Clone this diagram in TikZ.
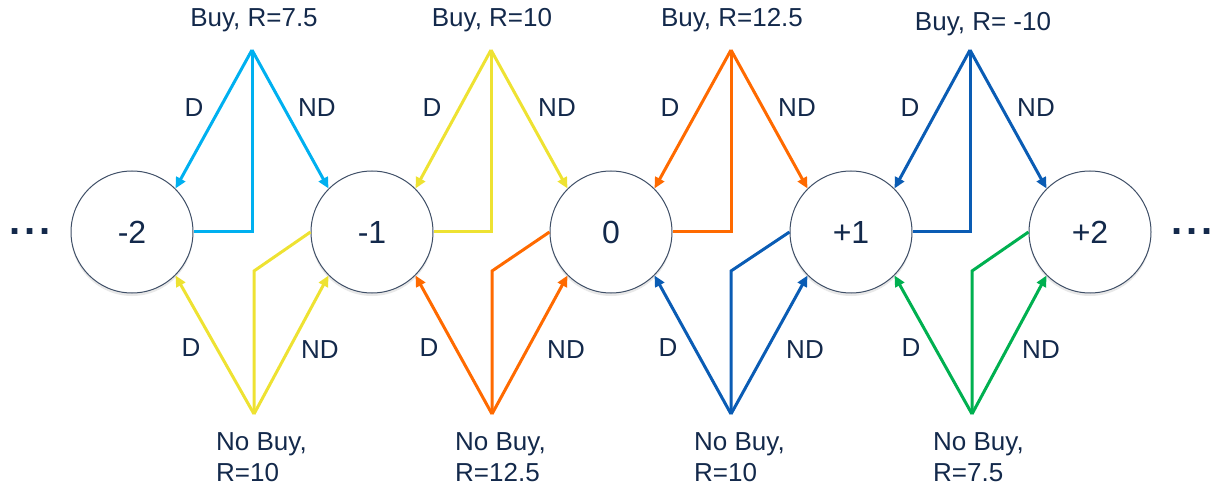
\documentclass[tikz,border=0pt]{standalone}
\usepackage{fontspec}
\setmainfont{Liberation Sans}
\usetikzlibrary{arrows.meta,shadows}
\definecolor{txt}{HTML}{13294B}
\definecolor{lblue}{HTML}{00B0F0}
\definecolor{yel}{HTML}{EEE232}
\definecolor{org}{HTML}{FF6A00}
\definecolor{dblue}{HTML}{0A5CB4}
\definecolor{grn}{HTML}{00B050}
\definecolor{ring}{HTML}{3E4E66}
\begin{document}
\begin{tikzpicture}[x=1pt,y=-1pt,
  state/.style={circle, draw=ring, line width=1pt, fill=white, minimum size=122pt, inner sep=0pt,
    font=\fontsize{32}{36}\selectfont, text=txt,
    drop shadow={shadow xshift=0pt,shadow yshift=-3pt,opacity=0.18}},
  lbl/.style={font=\fontsize{26}{30}\selectfont, text=txt},
  nblbl/.style={font=\fontsize{26}{31}\selectfont, text=txt, align=left, anchor=north west, inner sep=0pt},
  conn/.style={line width=3pt, -{Triangle[length=11pt,width=10pt]}},
  plain/.style={line width=3pt, line join=miter},
  dots/.style={font=\fontsize{40}{44}\selectfont\bfseries, text=txt, inner sep=0pt}]
\useasboundingbox (0,0) rectangle (1216,489);

% states
\node[state] (m2) at (132,232) {-2};
\node[state] (m1) at (372,232) {-1};
\node[state] (z)  at (611,232) {0};
\node[state] (p1) at (851,232) {+1};
\node[state] (p2) at (1090,232) {+2};

\node[dots] (dl) at (30,232) {.\hspace{4pt}.\hspace{4pt}.};
\node[dots] (dr) at (1192,232) {.\hspace{4pt}.\hspace{4pt}.};

% apex coordinates
\coordinate (ta1) at (252,50);
\coordinate (ta2) at (491,50);
\coordinate (ta3) at (731,50);
\coordinate (ta4) at (970,50);
\coordinate (ba1) at (254,414);
\coordinate (ba2) at (492,414);
\coordinate (ba3) at (731,414);
\coordinate (ba4) at (972,414);
\coordinate (bk1) at (254,271);
\coordinate (bk2) at (492,271);
\coordinate (bk3) at (731,271);
\coordinate (bk4) at (972,271);

% top (Buy) arrows
\draw[plain,lblue] (m2.east) -| (ta1);
\draw[conn,lblue] (ta1) -- (m2.45);
\draw[conn,lblue] (ta1) -- (m1.135);

\draw[plain,yel] (m1.east) -| (ta2);
\draw[conn,yel] (ta2) -- (m1.45);
\draw[conn,yel] (ta2) -- (z.135);

\draw[plain,org] (z.east) -| (ta3);
\draw[conn,org] (ta3) -- (z.45);
\draw[conn,org] (ta3) -- (p1.135);

\draw[plain,dblue] (p1.east) -| (ta4);
\draw[conn,dblue] (ta4) -- (p1.45);
\draw[conn,dblue] (ta4) -- (p2.135);

% bottom (No Buy) arrows
\draw[plain,yel] (m1.west) -- (bk1) -- (ba1);
\draw[conn,yel] (ba1) -- (m2.-45);
\draw[conn,yel] (ba1) -- (m1.-135);

\draw[plain,org] (z.west) -- (bk2) -- (ba2);
\draw[conn,org] (ba2) -- (m1.-45);
\draw[conn,org] (ba2) -- (z.-135);

\draw[plain,dblue] (p1.west) -- (bk3) -- (ba3);
\draw[conn,dblue] (ba3) -- (z.-45);
\draw[conn,dblue] (ba3) -- (p1.-135);

\draw[plain,grn] (p2.west) -- (bk4) -- (ba4);
\draw[conn,grn] (ba4) -- (p1.-45);
\draw[conn,grn] (ba4) -- (p2.-135);

% top labels
\node[lbl] (b1) at (254,20) {Buy, R=7.5};
\node[lbl] (b2) at (492,20) {Buy, R=10};
\node[lbl] (b3) at (732,20) {Buy, R=12.5};
\node[lbl] (b4) at (983,24) {Buy, R= -10};

\node[lbl] (d1) at (194,108) {D};
\node[lbl] (n1) at (317,108) {ND};
\node[lbl] (d2) at (432,108) {D};
\node[lbl] (n2) at (557,108) {ND};
\node[lbl] (d3) at (670,108) {D};
\node[lbl] (n3) at (797,108) {ND};
\node[lbl] (d4) at (910,108) {D};
\node[lbl] (n4) at (1036,108) {ND};

% bottom labels
\node[lbl] (e1) at (191,348) {D};
\node[lbl] (o1) at (320,350) {ND};
\node[lbl] (e2) at (429,348) {D};
\node[lbl] (o2) at (566,350) {ND};
\node[lbl] (e3) at (668,348) {D};
\node[lbl] (o3) at (805,350) {ND};
\node[lbl] (e4) at (911,348) {D};
\node[lbl] (o4) at (1041,350) {ND};

\node[nblbl] (nb1) at (216,432) {No Buy,\\R=10};
\node[nblbl] (nb2) at (455,432) {No Buy,\\R=12.5};
\node[nblbl] (nb3) at (694,432) {No Buy,\\R=10};
\node[nblbl] (nb4) at (933,432) {No Buy,\\R=7.5};
\end{tikzpicture}
\end{document}
